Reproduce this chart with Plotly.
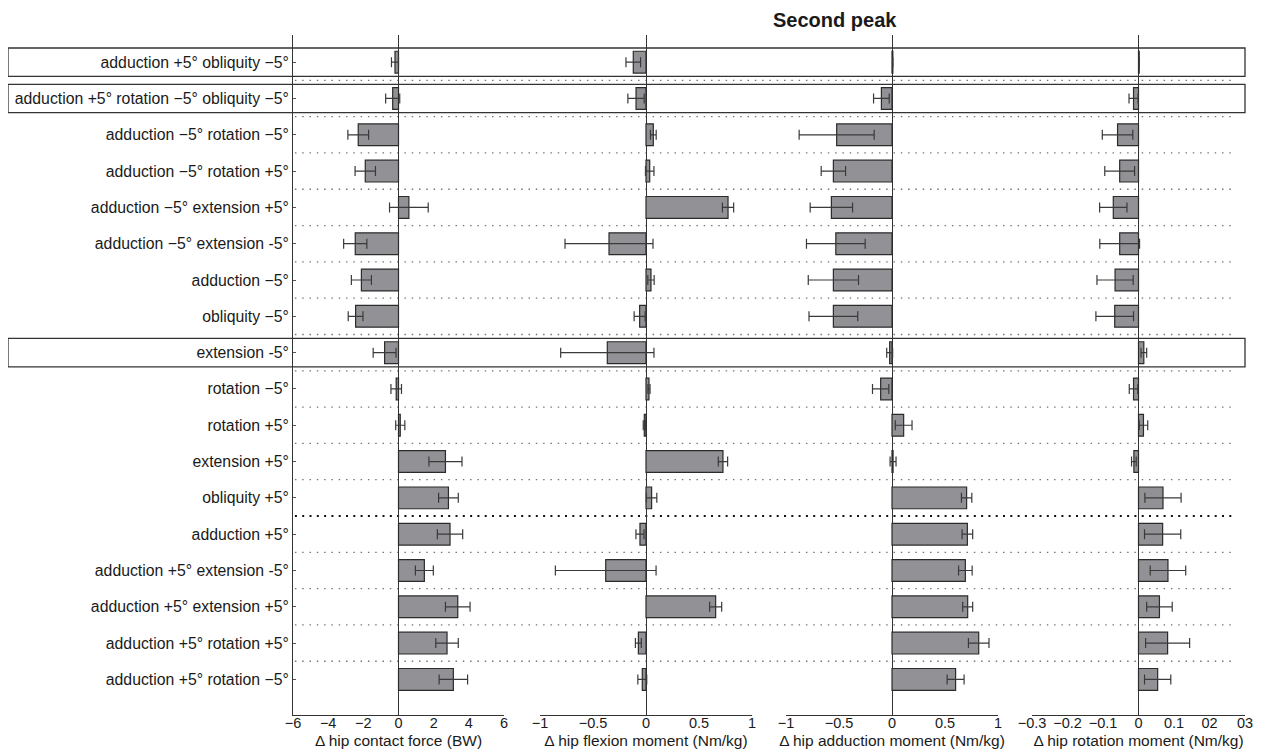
import plotly.graph_objects as go

labels = [
    "adduction +5° obliquity −5°",
    "adduction +5° rotation −5° obliquity −5°",
    "adduction −5° rotation −5°",
    "adduction −5° rotation +5°",
    "adduction −5° extension +5°",
    "adduction −5° extension -5°",
    "adduction −5°",
    "obliquity −5°",
    "extension -5°",
    "rotation −5°",
    "rotation +5°",
    "extension +5°",
    "obliquity +5°",
    "adduction +5°",
    "adduction +5° extension -5°",
    "adduction +5° extension +5°",
    "adduction +5° rotation +5°",
    "adduction +5° rotation −5°",
]
boxed_rows = [0, 1, 8]

force = [-0.2, -0.33, -2.29, -1.89, 0.59, -2.46, -2.11, -2.44, -0.79, -0.13, 0.1, 2.67, 2.84, 2.93, 1.47, 3.37, 2.76, 3.12]
force_err = [0.2, 0.4, 0.59, 0.58, 1.1, 0.66, 0.57, 0.42, 0.65, 0.3, 0.26, 0.94, 0.56, 0.72, 0.51, 0.70, 0.64, 0.81]

flexion = [-0.12, -0.094, 0.069, 0.035, 0.774, -0.349, 0.047, -0.06, -0.365, 0.028, -0.016, 0.726, 0.053, -0.057, -0.38, 0.657, -0.072, -0.035]
flexion_err = [0.069, 0.077, 0.027, 0.04, 0.053, 0.415, 0.03, 0.052, 0.44, 0.01, 0.01, 0.044, 0.049, 0.038, 0.475, 0.057, 0.028, 0.042]

adduction = [0.008, -0.10, -0.522, -0.553, -0.572, -0.53, -0.553, -0.553, -0.022, -0.107, 0.11, 0.01, 0.704, 0.711, 0.692, 0.714, 0.818, 0.6]
adduction_err = [0, 0.074, 0.354, 0.115, 0.2, 0.277, 0.237, 0.23, 0.028, 0.077, 0.079, 0.028, 0.049, 0.05, 0.064, 0.047, 0.097, 0.08]

rotation = [0.002, -0.014, -0.059, -0.053, -0.071, -0.053, -0.066, -0.067, 0.015, -0.014, 0.014, -0.013, 0.069, 0.068, 0.083, 0.059, 0.082, 0.054]
rotation_err = [0, 0.0127, 0.043, 0.042, 0.0385, 0.056, 0.051, 0.053, 0.008, 0.012, 0.012, 0.0066, 0.051, 0.051, 0.05, 0.036, 0.062, 0.037]

axis_titles = [
    "Δ hip contact force (BW)",
    "Δ hip flexion moment (Nm/kg)",
    "Δ hip adduction moment (Nm/kg)",
    "Δ hip rotation moment (Nm/kg)",
]
tickvals_list = [
    [-6, -4, -2, 0, 2, 4, 6],
    [-1, -0.5, 0, 0.5, 1],
    [-1, -0.5, 0, 0.5, 1],
    [-0.3, -0.2, -0.1, 0, 0.1, 0.2, 0.3],
]
ticktext_list = [
    ["−6", "−4", "−2", "0", "2", "4", "6"],
    ["−1", "−0.5", "0", "0.5", "1"],
    ["−1", "−0.5", "0", "0.5", "1"],
    ["−0.3", "−0.2", "−0.1", "0", "0.1", "02", "03"],
]
ranges = [[-6, 6], [-1, 1], [-1, 1], [-0.3, 0.3]]

title_text = "Second peak"

FONT = "Liberation Sans, Arial, Helvetica, sans-serif"
OFF = 8  # page body margin
W, H = 1263 - OFF, 756 - OFF
# plot area in page pixels
PL, PR, PT, PB = 293, 1245, 35, 715
ML = PL - OFF
MR = W - (PR - OFF)
MT = PT - OFF
MB = H - (PB - OFF)
PW = PR - PL
PH = PB - PT

def px_to_paper_x(px):
    return (px - PL) / PW

def py_to_paper_y(py):
    return (PB - py) / PH

domains = [
    [px_to_paper_x(293), px_to_paper_x(504)],
    [px_to_paper_x(540), px_to_paper_x(752)],
    [px_to_paper_x(786), px_to_paper_x(998)],
    [px_to_paper_x(1032), px_to_paper_x(1245)],
]

rows = list(range(len(labels)))
series = [(force, force_err), (flexion, flexion_err), (adduction, adduction_err), (rotation, rotation_err)]

fig = go.Figure()
axis_names = ["x", "x2", "x3", "x4"]
for i, (vals, errs) in enumerate(series):
    fig.add_trace(go.Bar(
        x=vals, y=rows, orientation="h", xaxis=axis_names[i], yaxis="y",
        width=0.6,
        marker=dict(color="#929296", line=dict(color="#2b2b2b", width=1.2)),
        error_x=dict(type="data", array=errs, symmetric=True, color="#3a3a3a",
                     thickness=1.2, width=5),
        showlegend=False, hoverinfo="x+y",
    ))

layout = dict(
    width=W, height=H,
    margin=dict(l=ML, r=MR, t=MT, b=MB, pad=0),
    plot_bgcolor="white", paper_bgcolor="white",
    font=dict(family=FONT, color="#1a1a1a", size=14),
    yaxis=dict(
        domain=[0, 1], anchor="x",
        range=[17.98, -0.748],
        tickmode="array", tickvals=rows, ticktext=labels,
        tickfont=dict(size=15.8, family=FONT, color="#1a1a1a"),
        ticks="inside", ticklen=3, tickcolor="#555",
        showline=True, linecolor="#333", linewidth=1,
        showgrid=False, zeroline=False, automargin=False,
        ticklabelstandoff=0,
    ),
)
for i in range(4):
    key = "xaxis" if i == 0 else f"xaxis{i+1}"
    layout[key] = dict(
        domain=domains[i], anchor="y", range=ranges[i],
        tickmode="array", tickvals=tickvals_list[i], ticktext=ticktext_list[i],
        tickfont=dict(size=14.5, family=FONT, color="#1a1a1a"),
        ticks="", showline=True, linecolor="#333", linewidth=1,
        showgrid=False, zeroline=True, zerolinecolor="#333", zerolinewidth=1,
        automargin=False, ticklabelstandoff=-5,
        title=dict(text=axis_titles[i], font=dict(size=15.5, family=FONT, color="#1a1a1a"), standoff=4),
    )
fig.update_layout(**layout)

shapes = []
# dotted separators between rows
for k in range(len(labels) - 1):
    yv = k + 0.5
    dark = (k == 12)
    shapes.append(dict(
        type="line", xref="paper", yref="y",
        x0=0.002, x1=px_to_paper_x(1236), y0=yv, y1=yv,
        line=dict(color="#111" if dark else "#777", width=2 if dark else 1.3,
                  dash="2px,5.3px" if dark else "1.5px,5.8px"),
        layer="below",
    ))
# boxes around highlighted rows
for r in boxed_rows:
    shapes.append(dict(
        type="rect", xref="paper", yref="y",
        x0=px_to_paper_x(8), x1=1.0, y0=r - 0.39, y1=r + 0.39,
        line=dict(color="#333", width=1.3), fillcolor="rgba(0,0,0,0)",
        layer="above",
    ))
fig.update_layout(shapes=shapes)

fig.add_annotation(
    text=f"<b>{title_text}</b>", xref="paper", yref="paper",
    x=px_to_paper_x(835), y=py_to_paper_y(20),
    xanchor="center", yanchor="middle", showarrow=False,
    font=dict(size=20, family=FONT, color="#1a1a1a"),
)

fig.write_html("out.html")
